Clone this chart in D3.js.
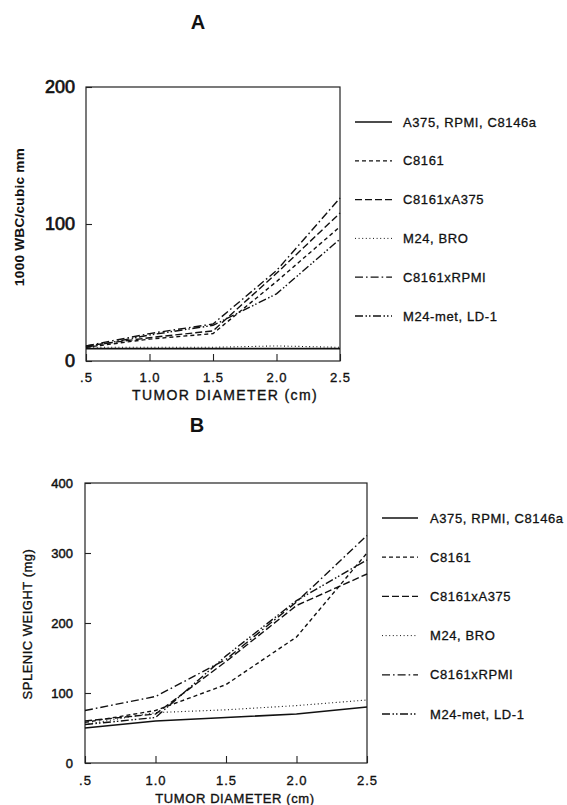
<!DOCTYPE html>
<html><head><meta charset="utf-8">
<script src="https://cdn.jsdelivr.net/npm/d3@7"></script>
<style>
body{margin:0;background:#fff;}
svg{display:block;}
text{font-family:"Liberation Sans",Arial,Helvetica,sans-serif;fill:#111;}
</style></head>
<body>
<svg id="c" width="567" height="805"></svg>
<script>
// ---------- data ----------
const diameters = [0.5, 1.0, 1.5, 2.0, 2.5];
const xTickLabels = [".5", "1.0", "1.5", "2.0", "2.5"];
const seriesNames = ["A375, RPMI, C8146a", "C8161", "C8161xA375", "M24, BRO", "C8161xRPMI", "M24-met, LD-1"];

// Panel A: 1000 WBC/cubic mm
const wbcA375   = [9, 9, 9, 9, 9];
const wbcC8161  = [10, 16, 20, 58, 98];
const wbcC8161xA375 = [11, 17, 22, 64, 108];
const wbcM24BRO = [10, 10, 10, 11, 10];
const wbcC8161xRPMI = [11, 20, 27, 66, 119];
const wbcM24met = [10, 19, 26, 49, 89];
const wbcTicks = [0, 100, 200];

// Panel B: splenic weight (mg)
const splA375   = [50, 60, 65, 70, 80];
const splC8161  = [58, 75, 112, 180, 300];
const splC8161xA375 = [60, 70, 145, 225, 270];
const splM24BRO = [55, 72, 76, 82, 90];
const splC8161xRPMI = [75, 95, 148, 230, 325];
const splM24met = [55, 65, 153, 232, 290];
const splTicks = [0, 100, 200, 300, 400];

// ---------- styles ----------
const dashes = [null, "4,3", "7,3", "1,2.6", "8,3,1.6,3", "8,2.5,1.5,2,1.5,2.5"];
const widths = [1.7, 1.4, 1.4, 1.1, 1.4, 1.4];
const SANS = "'Liberation Sans', Arial, sans-serif";
const SERIF = "'Liberation Serif', 'Times New Roman', serif";

const svg = d3.select("#c");

function ink(sel, w){ return sel.attr("stroke", "#111").attr("stroke-width", w); }

function panel(cfg){
  const g = svg.append("g");
  const x = d3.scaleLinear().domain([0.5, 2.5]).range([cfg.x0, cfg.x1]);
  const y = d3.scaleLinear().domain([0, cfg.ymax]).range([cfg.y0, cfg.y1]);

  // frame
  g.append("rect").attr("x", cfg.x0).attr("y", cfg.y1)
    .attr("width", cfg.x1 - cfg.x0).attr("height", cfg.y0 - cfg.y1)
    .attr("fill", "none").attr("stroke", "#222").attr("stroke-width", 1.2);

  // axes
  const xa = g.append("g").attr("transform", `translate(0,${cfg.y0})`)
    .call(d3.axisBottom(x).tickValues(diameters)
      .tickFormat((d, i) => xTickLabels[i]).tickSizeInner(-7).tickSizeOuter(0).tickPadding(cfg.xPad));
  xa.select(".domain").remove();
  xa.selectAll("line").attr("stroke", "#222").attr("stroke-width", 1.1);
  ink(xa.selectAll("text").attr("font-size", cfg.xTickFont).attr("letter-spacing", cfg.xTickLS)
    .attr("font-family", SANS).attr("fill", "#111"), 0.35);

  const ya = g.append("g").attr("transform", `translate(${cfg.x0},0)`)
    .call(d3.axisLeft(y).tickValues(cfg.yTicks).tickFormat(d3.format("d"))
      .tickSizeInner(-6).tickSizeOuter(0).tickPadding(cfg.yPad));
  ya.select(".domain").remove();
  ya.selectAll("line").attr("stroke", "#222").attr("stroke-width", 1.1);
  ink(ya.selectAll("text").attr("font-size", cfg.yTickFont)
    .attr("font-family", SANS).attr("fill", "#111"), cfg.yTickInk);

  // lines
  const line = d3.line().x((d, i) => x(diameters[i])).y(d => y(d));
  cfg.series.forEach((s, k) => {
    g.append("path").datum(s).attr("d", line).attr("fill", "none")
      .attr("stroke", "#111").attr("stroke-width", widths[k])
      .attr("stroke-dasharray", dashes[k]);
  });

  // axis titles
  ink(g.append("text").attr("x", cfg.xtX).attr("y", cfg.xtY).attr("text-anchor", "middle")
    .attr("font-family", SANS)
    .attr("font-size", cfg.xtFont).attr("letter-spacing", cfg.xtLS).text("TUMOR DIAMETER (cm)"), 0.35);
  g.append("text").attr("transform", `translate(${cfg.ytX},${cfg.ytY}) rotate(-90)`)
    .attr("text-anchor", "middle").attr("font-size", cfg.ytFont)
    .attr("font-family", cfg.ytFamily).attr("font-weight", cfg.ytWeight)
    .attr("letter-spacing", cfg.ytLS).attr("stroke", "#111").attr("stroke-width", cfg.ytInk)
    .text(cfg.yTitle);

  // panel letter
  g.append("text").attr("x", cfg.letterX).attr("y", cfg.letterY).attr("text-anchor", "middle")
    .attr("font-family", SANS)
    .attr("font-size", 20).attr("font-weight", "bold").text(cfg.letter);

  // legend
  seriesNames.forEach((name, k) => {
    const yy = cfg.legY + k * cfg.legStep;
    g.append("line").attr("x1", cfg.legX0).attr("x2", cfg.legX1).attr("y1", yy).attr("y2", yy)
      .attr("stroke", "#111").attr("stroke-width", k === 0 ? 1.4 : widths[k] * 0.9)
      .attr("stroke-dasharray", dashes[k]);
    ink(g.append("text").attr("x", cfg.legTX).attr("y", yy + 4.5).attr("font-size", 13)
      .attr("font-family", SANS).attr("letter-spacing", 0.6).text(name), 0.3);
  });
}

panel({
  x0: 86, x1: 340, y0: 361, y1: 87, ymax: 200, yTicks: wbcTicks,
  series: [wbcA375, wbcC8161, wbcC8161xA375, wbcM24BRO, wbcC8161xRPMI, wbcM24met],
  xPad: 12, xTickFont: 13, xTickLS: 1,
  yPad: 11, yTickFont: 18, yTickInk: 0.7,
  xtX: 225, xtY: 400, xtFont: 14, xtLS: 1.4,
  ytX: 24, ytY: 217, ytFont: 13.5, ytFamily: SERIF, ytWeight: "bold", ytLS: 0.3, ytInk: 0.1,
  yTitle: "1000 WBC/cubic mm",
  letter: "A", letterX: 198, letterY: 29,
  legY: 122, legStep: 38.8, legX0: 355, legX1: 392, legTX: 403
});

panel({
  x0: 85, x1: 367, y0: 763, y1: 483, ymax: 400, yTicks: splTicks,
  series: [splA375, splC8161, splC8161xA375, splM24BRO, splC8161xRPMI, splM24met],
  xPad: 13, xTickFont: 13, xTickLS: 1,
  yPad: 12, yTickFont: 13, yTickInk: 0.45,
  xtX: 235, xtY: 803, xtFont: 13, xtLS: 0.6,
  ytX: 32, ytY: 624, ytFont: 13, ytFamily: SANS, ytWeight: "normal", ytLS: 0.5, ytInk: 0.35,
  yTitle: "SPLENIC WEIGHT (mg)",
  letter: "B", letterX: 197, letterY: 432,
  legY: 518, legStep: 39.2, legX0: 382, legX1: 418, legTX: 430
});
</script>
</body></html>
